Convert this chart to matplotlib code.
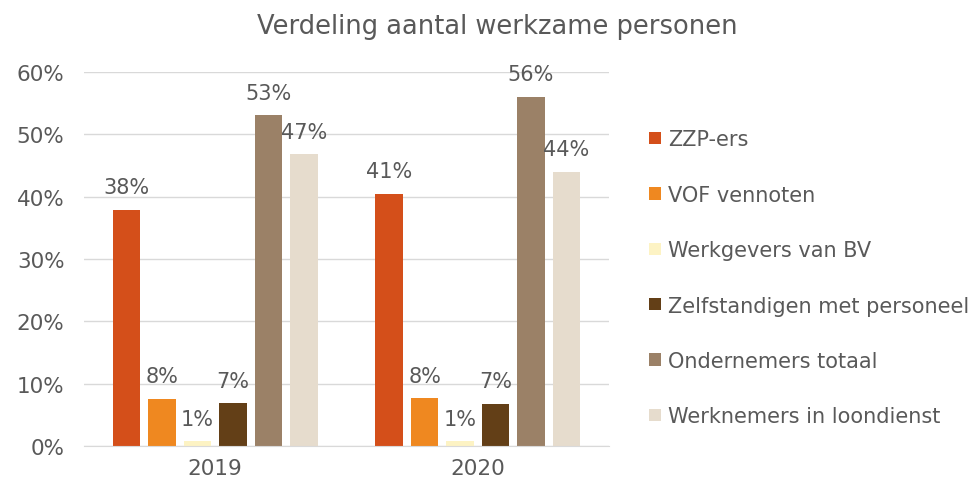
import numpy as np
import matplotlib.pyplot as plt
from matplotlib.ticker import PercentFormatter

years = ["2019", "2020"]
series = ["ZZP-ers", "VOF vennoten", "Werkgevers van BV",
          "Zelfstandigen met personeel", "Ondernemers totaal",
          "Werknemers in loondienst"]
zzp = [0.379, 0.405]
vof = [0.076, 0.077]
bv = [0.008, 0.008]
zelf = [0.069, 0.068]
ondernemers = [0.531, 0.560]
werknemers = [0.468, 0.440]
labels = [["38%", "41%"], ["8%", "8%"], ["1%", "1%"],
          ["7%", "7%"], ["53%", "56%"], ["47%", "44%"]]

colors = ["#d44f1a", "#ef8820", "#fdf3c4", "#633f17", "#9b8167", "#e6dccd"]
text_color = "#595959"

plt.rcParams["font.family"] = "DejaVu Sans"

fig = plt.figure(figsize=(9.79, 4.89), dpi=100)
ax = fig.add_axes([84 / 979, 42 / 489, 525 / 979, 374 / 489])

x = np.arange(len(years))
step = 0.135
width = 0.105
values = [zzp, vof, bv, zelf, ondernemers, werknemers]
for i, (vals, name) in enumerate(zip(values, series)):
    pos = x + (i - 2.5) * step
    ax.bar(pos, vals, width, color=colors[i], label=name, zorder=2)
    for p, v, lab in zip(pos, vals, labels[i]):
        ax.text(p, v + 0.02, lab, ha="center", va="bottom",
                fontsize=15, color=text_color)

ax.set_xlim(-0.5, 1.5)
ax.set_ylim(0, 0.6)
ax.set_yticks(np.arange(0, 0.61, 0.1))
ax.yaxis.set_major_formatter(PercentFormatter(1.0, decimals=0))
ax.set_xticks(x)
ax.set_xticklabels(years)
ax.tick_params(axis="both", length=0, labelsize=15.5, labelcolor=text_color)
ax.tick_params(axis="y", pad=14)
ax.tick_params(axis="x", pad=9)
ax.grid(axis="y", color="#d9d9d9", linewidth=1, zorder=0)
for side in ["top", "right", "left"]:
    ax.spines[side].set_visible(False)
ax.spines["bottom"].set_color("#d9d9d9")

fig.suptitle("Verdeling aantal werkzame personen", x=0.508, y=0.972,
             fontsize=18.5, color=text_color)

fig.legend(loc="upper left", bbox_to_anchor=(641 / 979, 1 - 122 / 489),
           frameon=False, fontsize=15, labelcolor=text_color,
           handlelength=0.55, handleheight=0.55, handletextpad=0.35,
           labelspacing=1.7, borderaxespad=0)

fig.savefig("out.png", dpi=100)
